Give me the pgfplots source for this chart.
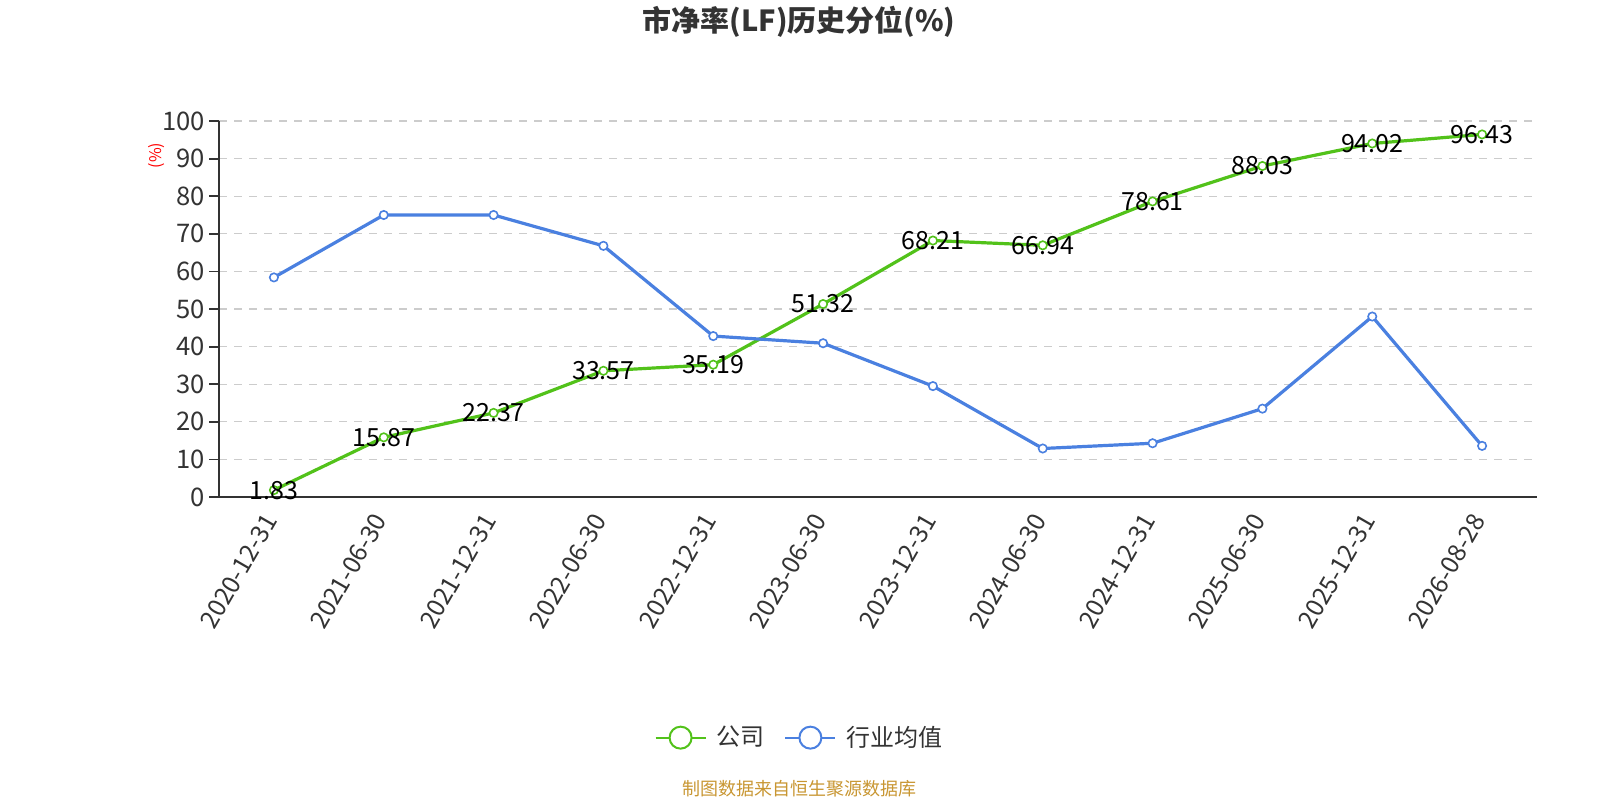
\documentclass[border=0pt]{standalone}
\usepackage{pgfplots}
\pgfplotsset{compat=1.18}
\usepackage{fontspec}
\setmainfont{Noto Sans CJK SC}
\definecolor{cgreen}{RGB}{82,194,26}
\definecolor{cblue}{RGB}{74,128,224}
\definecolor{ctext}{RGB}{51,51,51}
\definecolor{cgrid}{RGB}{204,204,204}
\definecolor{cfoot}{RGB}{200,150,50}
\begin{document}
\begin{tikzpicture}
\begin{axis}[
  at={(109.5pt,151.5pt)}, anchor=south west,
  scale only axis, width=659pt, height=188pt,
  xmin=-0.5, xmax=11.5, ymin=0, ymax=100,
  axis x line*=bottom, axis y line*=left,
  axis line style={ctext, line width=0.9pt},
  ytick={0,10,...,100},
  xtick={0,...,11},
  xticklabels={2020-12-31,2021-06-30,2021-12-31,2022-06-30,2022-12-31,2023-06-30,2023-12-31,2024-06-30,2024-12-31,2025-06-30,2025-12-31,2026-08-28},
  x tick label style={yshift=-1.5pt, rotate=60, anchor=east, font=\fontsize{12.4}{14}\selectfont, text=ctext},
  y tick label style={xshift=1.5pt, font=\fontsize{12.8}{14}\selectfont, text=ctext},
  /pgf/number format/assume math mode=true,
  major x tick style={draw=none},
  extra x ticks={-0.5,0.5,...,11.5},
  extra x tick labels={},
  extra x tick style={major tick length=4.5pt, tick style={ctext, line width=0.9pt}, grid=none},
  tick align=outside,
  major tick length=5pt,
  ytick style={ctext, line width=0.9pt},
  ymajorgrids,
  grid style={cgrid, dash pattern=on 4pt off 3.5pt, line width=0.6pt},
  nodes near coords,
  every node near coord/.style={anchor=center, font=\fontsize{12.5}{14}\selectfont, text=black},
  legend style={at={(0.4412,-0.640)}, anchor=center, draw=none, legend columns=2,
    font=\fontsize{12}{14}\selectfont, text=ctext,
    /tikz/every odd column/.append style={column sep=3pt},
    /tikz/every even column/.append style={column sep=8pt}},
  legend cell align=left,
]
\addplot[cgreen, line width=1.6pt, mark=*, mark size=2.1pt, mark options={fill=white, line width=0.8pt},
  legend image code/.code={\draw[line width=0.9pt] (0pt,0pt) -- (25pt,0pt); \draw[fill=white, line width=1pt] (12.5pt,0pt) circle (5.5pt);}]
  coordinates {(0,1.83)(1,15.87)(2,22.37)(3,33.57)(4,35.19)(5,51.32)(6,68.21)(7,66.94)(8,78.61)(9,88.03)(10,94.02)(11,96.43)};
\addlegendentry{公司}
\addplot[cblue, line width=1.6pt, mark=*, mark size=2.1pt, mark options={fill=white, line width=0.8pt}, nodes near coords=\empty,
  every node near coord/.style={draw=none},
  legend image code/.code={\draw[line width=0.9pt] (0pt,0pt) -- (25pt,0pt); \draw[fill=white, line width=1pt] (12.5pt,0pt) circle (5.5pt);}]
  coordinates {(0,58.4)(1,75.0)(2,75.0)(3,66.8)(4,42.8)(5,40.9)(6,29.5)(7,12.9)(8,14.3)(9,23.5)(10,48.0)(11,13.6)};
\addlegendentry{行业均值}
\end{axis}
\node[red, rotate=90, font=\fontsize{8}{9}\selectfont] at (78.3pt,322.2pt) {(\%)};
\node[font=\bfseries\fontsize{14.5}{16}\selectfont, text=ctext] at (399.5pt,389pt) {市净率(LF)历史分位(\%)};
\node[font=\fontsize{9}{10}\selectfont, text=cfoot] at (399.6pt,5.8pt) {制图数据来自恒生聚源数据库};
\pgfresetboundingbox
\useasboundingbox (0,0) rectangle (800pt,400pt);
\end{tikzpicture}
\end{document}
